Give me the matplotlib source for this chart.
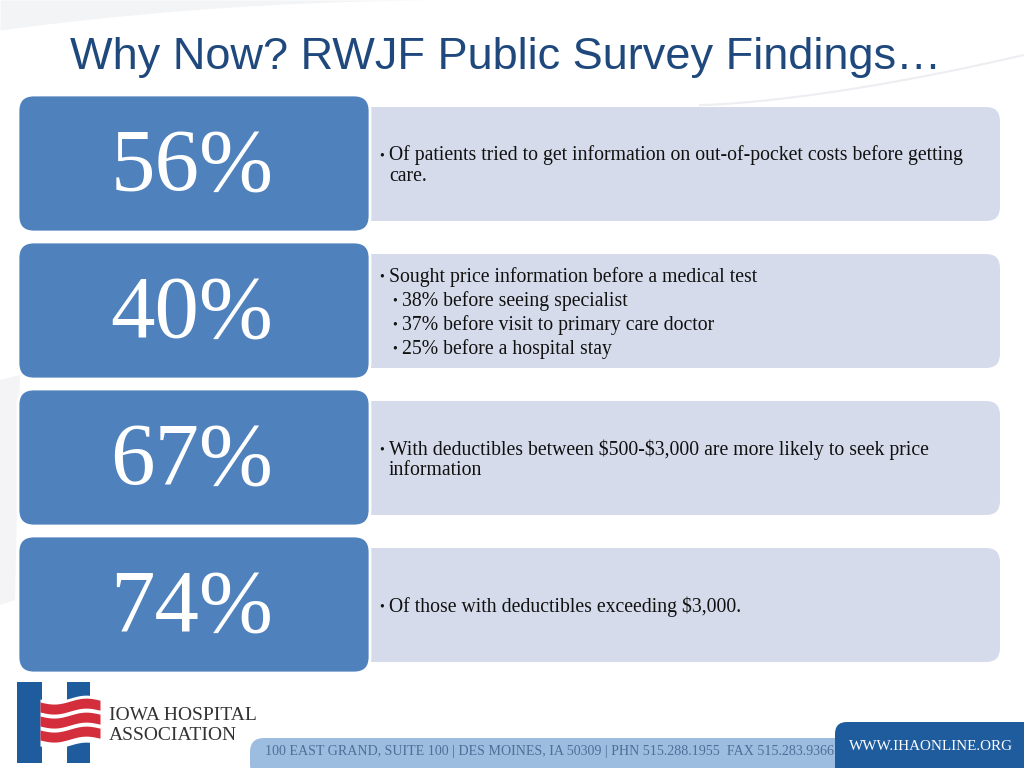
import matplotlib
matplotlib.use('Agg')
import matplotlib.pyplot as plt
import numpy as np
from matplotlib.patches import FancyBboxPatch, Rectangle, Polygon

# slide content
title = 'Why Now? RWJF Public Survey Findings…'
percents = ['56%', '40%', '67%', '74%']
bullets = [
    [(0, 'Of patients tried to get information on out-of-pocket costs before getting\ncare.')],
    [(0, 'Sought price information before a medical test'),
     (1, '38% before seeing specialist'),
     (1, '37% before visit to primary care doctor'),
     (1, '25% before a hospital stay')],
    [(0, 'With deductibles between \\$500-\\$3,000 are more likely to seek price\ninformation')],
    [(0, 'Of those with deductibles exceeding \\$3,000.')],
]
address = '100 EAST GRAND, SUITE 100 | DES MOINES, IA 50309 | PHN 515.288.1955  FAX 515.283.9366'
website = 'WWW.IHAONLINE.ORG'
logo_lines = ['IOWA HOSPITAL', 'ASSOCIATION']

fig = plt.figure(figsize=(10.24, 7.68), dpi=100)
ax = fig.add_axes([0, 0, 1, 1])
ax.set_xlim(0, 1024)
ax.set_ylim(768, 0)
ax.axis('off')

# faint background swooshes
xs = np.linspace(0, 450, 100)
ax.fill_between(xs, 0, 30 * (1 - xs / 450) ** 2, color='#f3f4f6', lw=0, zorder=0)
xc = np.linspace(700, 1024, 80)
ax.plot(xc, 105 - 50 * ((xc - 700) / 324) ** 1.5, color='#eceef2', lw=1.5, zorder=0)
ax.add_patch(Polygon([(0, 380), (20, 375), (15, 600), (0, 605)], closed=True,
                     color='#f4f4f6', lw=0, zorder=0))

ax.text(70, 58, title, va='center', ha='left', fontsize=32.5, color='#1f497d',
        family=['Liberation Sans', 'DejaVu Sans'])

blue_top = [95, 242, 389, 536]
for i, (pct, items) in enumerate(zip(percents, bullets)):
    top = blue_top[i]
    # light text panel
    ax.add_patch(FancyBboxPatch((355, top + 12), 645, 114,
                                boxstyle='round,pad=0,rounding_size=14',
                                fc='#d5dbea', ec='none', zorder=1))
    # blue number box
    ax.add_patch(FancyBboxPatch((18, top), 352, 137,
                                boxstyle='round,pad=0,rounding_size=16',
                                fc='#4f81bd', ec='white', lw=2, zorder=2))
    ax.text(192, top + 73, pct, ha='center', va='center', fontsize=64,
            color='white', family='Liberation Serif', zorder=3)

    # bullet lines, centred in panel
    n_wrap = sum(t.count('\n') for _, t in items)
    n_items = len(items)
    block = (n_items - 1) * 24 + n_wrap * 21
    y = top + 71 - block / 2
    for lvl, txt in items:
        bx = 379 + lvl * 13
        ax.text(bx, y, '•', ha='left', va='center', fontsize=10,
                family='Liberation Serif', color='#111111', zorder=3)
        for k, line in enumerate(txt.split('\n')):
            ax.text(bx + 10, y, line, ha='left', va='center', fontsize=14.2,
                    family='Liberation Serif', color='#111111', zorder=3)
            y += 21
        y += 3

# footer bars
ax.add_patch(FancyBboxPatch((250, 738), 610, 40, boxstyle='round,pad=0,rounding_size=14',
                            fc='#9dbde0', ec='none', zorder=1))
ax.text(265, 752, address, ha='left', va='center', fontsize=10.1,
        color='#4f6f99', family='Liberation Serif', zorder=3)
ax.add_patch(FancyBboxPatch((835, 722), 200, 60, boxstyle='round,pad=0,rounding_size=12',
                            fc='#1f5c9e', ec='none', zorder=2))
ax.text(931, 746, website, ha='center', va='center', fontsize=10.9,
        color='white', family='Liberation Serif', zorder=3)

# logo
ax.add_patch(Rectangle((17, 682), 25, 81, fc='#1f5c9e', ec='none', zorder=2))
ax.add_patch(Rectangle((67, 682), 23, 81, fc='#1f5c9e', ec='none', zorder=2))
fx = np.linspace(40, 100, 60)
wave = 2.5 * np.sin((fx - 40) / 60 * 2 * np.pi) - (fx - 40) * 0.03
ax.fill_between(fx, 699 + wave, 746 + wave, color='white', lw=0, zorder=3)
for j in range(3):
    y0 = 702 + j * 14
    ax.fill_between(fx, y0 + wave, y0 + 10 + wave, color='#d42e3c', lw=0, zorder=4)
ax.text(109, 716, logo_lines[0], ha='left', va='center', fontsize=14,
        color='#333333', family='Liberation Serif', zorder=3)
ax.text(109, 735, logo_lines[1], ha='left', va='center', fontsize=14,
        color='#333333', family='Liberation Serif', zorder=3)

fig.savefig('out.png', dpi=100, facecolor='white')
